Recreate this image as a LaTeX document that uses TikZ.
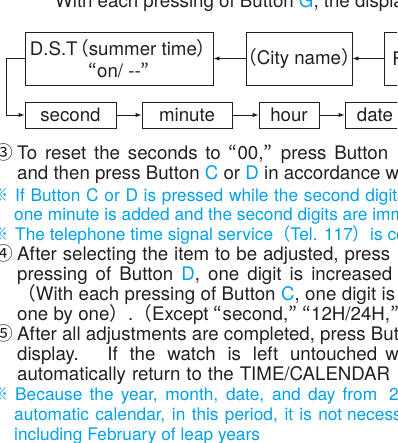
\documentclass[tikz,border=0pt]{standalone}
\usepackage{fontspec}
\setmainfont{TeX Gyre Heros}
\newfontfamily\cjk{Noto Sans CJK JP}
\usepackage{tikz}
\usetikzlibrary{positioning, arrows.meta}
\definecolor{ink}{RGB}{35,31,32}
\definecolor{notecyan}{RGB}{0,160,233}
\newcommand{\jp}[1]{{\cjk #1}}
\newcommand{\btn}[1]{\textcolor{notecyan}{#1}}
\newcommand{\justline}[2]{\makebox[#1][s]{#2}}
\newcommand{\lpar}{\kern-0.4em\jp{（}}
\newcommand{\rpar}{\jp{）}\kern-0.4em}
\newcommand{\bodyfont}{\fontsize{18.7}{21}\selectfont}
\newcommand{\notefont}{\fontsize{17.3}{19}\selectfont}
\tikzstyle{menu} = [rectangle, draw=ink, line width=0.9pt, inner sep=0pt,
                    minimum height=53pt, text=ink, font=\bodyfont, align=center]
\tikzstyle{item} = [rectangle, draw=ink, line width=0.9pt, inner sep=0pt,
                    minimum height=26pt, text=ink, font=\bodyfont]
\tikzstyle{body} = [anchor=base west, inner sep=0pt, text=ink, font=\bodyfont]
\tikzstyle{note} = [anchor=base west, inner sep=0pt, text=notecyan, font=\notefont]
\tikzstyle{numeral} = [anchor=base east, inner sep=0pt, text=ink, font=\bodyfont]
\tikzstyle{refsign} = [anchor=base east, inner sep=0pt, text=notecyan, font=\notefont]
\tikzstyle{arrow} = [draw=ink, line width=0.9pt, -{Latex[length=6pt,width=4.5pt]}]

\begin{document}
\begin{tikzpicture}[x=1pt, y=-1pt]
\useasboundingbox (0,0) rectangle (397,443);
\clip (0,0) rectangle (397,443);

\node (intro) [body] at (55,8) {With each pressing of Button \btn{G}, the display};

% setting order
\node (dst) [menu, minimum width=188pt] at (119,58.5) {D.S.T\lpar summer time\rpar\\[1pt]\jp{“}on/ -{}-\jp{”}};
\node (city) [menu, minimum width=106pt] at (299,58.5) {\makebox[0pt]{\jp{（}City name\jp{）}}};
\node (fbox) [menu, anchor=west, minimum width=80pt, text width=64pt, align=left] at (384,58.5) {F};
\node (sec) [item, minimum width=91pt] at (70.5,115) {second};
\node (min) [item, minimum width=90pt] at (187,115) {minute};
\node (hour) [item, minimum width=60pt] at (289,115) {hour};
\node (date) [item, minimum width=60pt] at (375,115) {date};

\draw [arrow] (fbox.west) -- (city.east);
\draw [arrow] (city.west) -- (dst.east);
\draw [arrow] (dst.west) -- ++(-18,0) |- (sec.west);
\draw [arrow] (sec) -- (min);
\draw [arrow] (min) -- (hour);
\draw [arrow] (hour) -- (date);

% step 3
\node (n3) [numeral] at (13.5,160) {\jp{③}};
\node (l1) [body] at (17,160) {\justline{371pt}{To reset the seconds to \jp{“}00,\jp{”} press Button}};
\node (l2) [body] at (17,180) {and then press Button \btn{C} or \btn{D} in accordance with};
\node (r1) [refsign] at (8.5,201) {\jp{※}};
\node (l3) [note] at (15,201) {\justline{382pt}{If Button C or D is pressed while the second digit}s};
\node (l4) [note] at (14,220) {one minute is added and the second digits are immediately};
\node (r2) [refsign] at (8.5,240) {\jp{※}};
\node (l5) [note] at (15,240) {The telephone time signal service\jp{（}Tel. 117\jp{）}is convenient};

% step 4
\node (n4) [numeral] at (13.5,260) {\jp{④}};
\node (l6) [body] at (17,260) {\justline{373pt}{After selecting the item to be adjusted, press}};
\node (l7) [body] at (17,280) {\justline{375pt}{pressing of Button \btn{D}, one digit is increased}};
\node (l8) [body] at (17,300) {\justline{378pt}{\jp{（}With each pressing of Button \btn{C}, one digit is}};
\node (l9) [body] at (17,320) {one by one\jp{）}.\jp{（}Except \jp{“}second,\jp{”} \jp{“}12H/24H,\jp{”}};

% step 5
\node (n5) [numeral] at (13.5,340) {\jp{⑤}};
\node (l10) [body] at (17,340) {After all adjustments are completed, press Button};
\node (l11) [body] at (17,360) {\justline{360pt}{display.\hspace{2pt} If the watch is left untouched}\hspace{3pt} with};
\node (l12) [body] at (17,380) {\justline{373pt}{automatically return to the TIME/CALENDAR}};
\node (r3) [refsign] at (8.5,400) {\jp{※}};
\node (l13) [note] at (15,400) {\justline{362pt}{Because the year, month, date, and day from}\hspace{7pt} 2000};
\node (l14) [note] at (14,420) {\justline{328pt}{automatic calendar, in this period, it is not} necessary};
\node (l15) [note] at (14,440) {including February of leap years};
\end{tikzpicture}
\end{document}
